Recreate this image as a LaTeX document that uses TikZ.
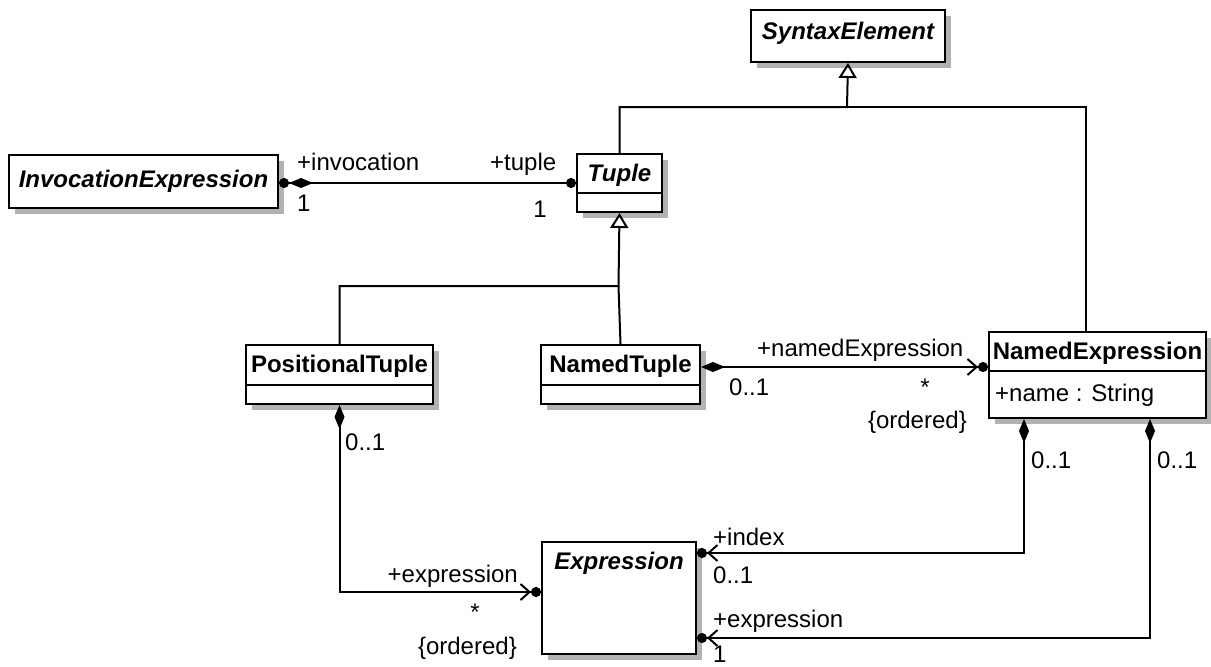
\documentclass[tikz,border=0pt]{standalone}
\usepackage{fontspec}
\setmainfont{Liberation Sans}
\usetikzlibrary{arrows.meta, shadows}

\tikzset{
  classbox/.style = {draw, fill=white, line width=2pt, anchor=north west, inner sep=0pt,
    drop shadow={shadow xshift=6pt, shadow yshift=-6pt, fill=black!30, opacity=1, draw=none}},
  classname/.style = {font=\fontsize{24}{28}\selectfont\bfseries, inner sep=0pt, anchor=base},
  abstractname/.style = {classname, font=\fontsize{24}{28}\selectfont\bfseries\itshape},
  rolelabel/.style = {font=\fontsize{24}{28}\selectfont, inner sep=0pt, anchor=base west},
  separator/.style = {line width=2pt},
  assocline/.style = {line width=2pt},
  genline/.style = {line width=2pt, -{Triangle[open, width=18pt, length=15pt]}},
  composite/.style = {assocline,
    {Diamond[width=10pt, length=24pt]}-{Straight Barb[length=9pt, width=16pt] Circle[length=10pt]}},
  ownedcomposite/.style = {assocline,
    {Circle[length=10pt] Diamond[width=10pt, length=24pt]}-{Circle[length=10pt]}}
}

\begin{document}
\begin{tikzpicture}[x = 1pt, y = -1pt]
    \useasboundingbox (0,0) rectangle (1211,667);

    % classes
    \node [classbox, minimum width=194pt, minimum height=52pt] (syntaxelement) at (750,9) {};
    \node [abstractname] (syntaxelementname) at ([yshift=-30pt]syntaxelement.north) {SyntaxElement};

    \node [classbox, minimum width=269pt, minimum height=53pt] (invocationexpression) at (8,154) {};
    \node [abstractname] (invocationexpressionname) at ([yshift=-33pt]invocationexpression.north) {InvocationExpression};

    \node [classbox, minimum width=85pt, minimum height=58pt] (tuple) at (576,153) {};
    \node [abstractname] (tuplename) at ([yshift=-28pt]tuple.north) {Tuple};
    \draw [separator] ([yshift=-40pt]tuple.north west) -- ([yshift=-40pt]tuple.north east);

    \node [classbox, minimum width=187pt, minimum height=59pt] (positionaltuple) at (245,344) {};
    \node [classname] (positionaltuplename) at ([yshift=-28pt]positionaltuple.north) {PositionalTuple};
    \draw [separator] ([yshift=-41pt]positionaltuple.north west) -- ([yshift=-41pt]positionaltuple.north east);

    \node [classbox, minimum width=159pt, minimum height=59pt] (namedtuple) at (540,344) {};
    \node [classname] (namedtuplename) at ([yshift=-28pt]namedtuple.north) {NamedTuple};
    \draw [separator] ([yshift=-41pt]namedtuple.north west) -- ([yshift=-41pt]namedtuple.north east);

    \node [classbox, minimum width=217pt, minimum height=86pt] (namedexpression) at (988,331) {};
    \node [classname] (namedexpressionname) at ([yshift=-28pt]namedexpression.north) {NamedExpression};
    \draw [separator] ([yshift=-40pt]namedexpression.north west) -- ([yshift=-40pt]namedexpression.north east);
    \node [rolelabel] (namedexpressionattr) at (995,401) {+name : String};

    \node [classbox, minimum width=154pt, minimum height=112pt] (expression) at (541,541) {};
    \node [abstractname] (expressionname) at ([yshift=-28pt]expression.north) {Expression};

    % generalizations
    \coordinate (genbar) at (847,107);
    \coordinate (nebar) at (1086,107);
    \coordinate (tuplebar) at (618.5,286);
    \draw [genline] (tuple.north) |- (genbar) -- (syntaxelement.south);
    \draw [assocline] (namedexpression.north -| nebar) -- (nebar) -- (genbar);
    \draw [genline] (positionaltuple.north) |- (tuplebar) -- (tuple.south);
    \draw [assocline] (namedtuple.north) -- (tuplebar);

    % associations
    \coordinate (ntrow) at (700,367);
    \coordinate (indexrow) at (1024,553);
    \coordinate (exprrow) at (1150,638);
    \coordinate (posrow) at (338.5,592);
    \draw [ownedcomposite] (invocationexpression.east |- tuple.west) -- (tuple.west);
    \draw [composite] (namedtuple.east |- ntrow) -- (namedexpression.west |- ntrow);
    \draw [composite] (namedexpression.south -| indexrow) |- (expression.east |- indexrow);
    \draw [composite] (namedexpression.south -| exprrow) |- (expression.east |- exprrow);
    \draw [composite] (positionaltuple.south) |- (expression.west |- posrow);

    % end labels
    \node [rolelabel] (invocationrole) at (297,170) {+invocation};
    \node [rolelabel] (invocationmult) at (297,211) {1};
    \node [rolelabel] (tuplerole) at (490,170) {+tuple};
    \node [rolelabel, anchor=base east] (tuplemult) at (547,217) {1};
    \node [rolelabel] (namedexpressionrole) at (757,356) {+namedExpression};
    \node [rolelabel] (namedtuplemult) at (729,395) {0..1};
    \node [rolelabel, anchor=base] (namedexpressionmult) at (925,395) {*};
    \node [rolelabel, anchor=base east] (namedexpressionorder) at (967,428) {\{ordered\}};
    \node [rolelabel] (indexownermult) at (1031,468) {0..1};
    \node [rolelabel] (exprownermult) at (1157,468) {0..1};
    \node [rolelabel] (indexrole) at (713,545) {+index};
    \node [rolelabel] (indexmult) at (713,583) {0..1};
    \node [rolelabel] (exprrole) at (713,627) {+expression};
    \node [rolelabel] (exprmult) at (713,662) {1};
    \node [rolelabel] (positionaltuplemult) at (345,450) {0..1};
    \node [rolelabel, anchor=base east] (posexprrole) at (518,582) {+expression};
    \node [rolelabel, anchor=base] (posexprmult) at (475,620) {*};
    \node [rolelabel, anchor=base east] (posexprorder) at (517,654) {\{ordered\}};
\end{tikzpicture}
\end{document}
